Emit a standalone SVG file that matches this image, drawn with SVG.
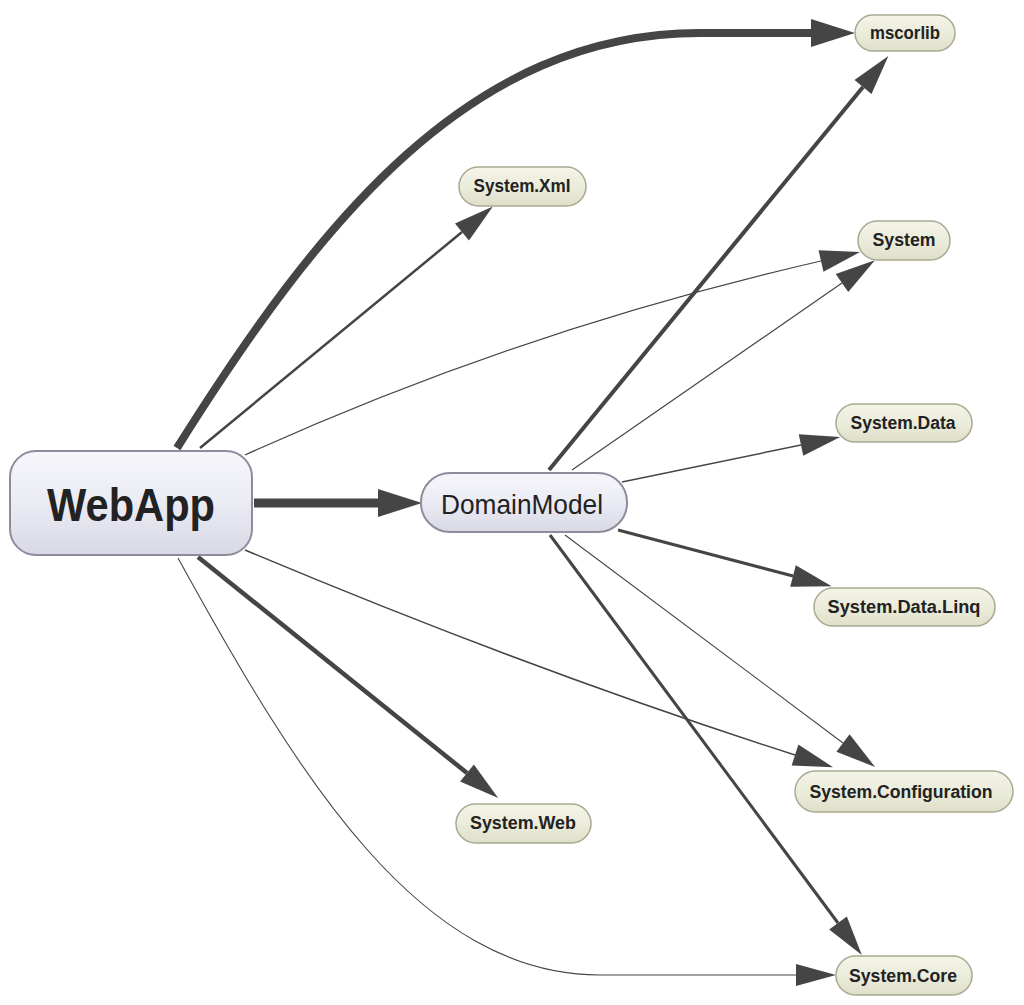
<svg xmlns="http://www.w3.org/2000/svg" width="1024" height="1005" viewBox="0 0 1024 1005">
<defs>
<linearGradient id="gMain" x1="0" y1="0" x2="0" y2="1">
<stop offset="0" stop-color="#f6f6fb"/>
<stop offset="0.5" stop-color="#ebebf4"/>
<stop offset="1" stop-color="#d9d9e6"/>
</linearGradient>
<linearGradient id="gLib" x1="0" y1="0" x2="0" y2="1">
<stop offset="0" stop-color="#f4f4e8"/>
<stop offset="0.5" stop-color="#ececdc"/>
<stop offset="1" stop-color="#dedec8"/>
</linearGradient>
<marker id="arr" markerUnits="userSpaceOnUse" markerWidth="42" markerHeight="26" refX="0" refY="13" orient="auto" overflow="visible">
<path d="M0,2 L40,13 L0,24 z" fill="#454545"/>
</marker>
<marker id="arrBig" markerUnits="userSpaceOnUse" markerWidth="46" markerHeight="30" refX="0" refY="15" orient="auto" overflow="visible">
<path d="M0,1 L44,15 L0,29 z" fill="#454545"/>
</marker>
<style>
.e{fill:none;stroke:#454545;marker-end:url(#arr)}
.eb{fill:none;stroke:#454545;marker-end:url(#arrBig)}
.main{fill:url(#gMain);stroke:#8c8c9c;stroke-width:2}
.lib{fill:url(#gLib);stroke:#a9a993;stroke-width:1.5}
.lt{font-family:"Liberation Sans",Arial,sans-serif;font-weight:bold;font-size:18px;fill:#222;text-anchor:middle}
</style>
</defs>
<g id="connectors">
<path class="eb" style="stroke-width:8" d="M177,448 C320,220 470,33 700,33 L811,33"/>
<path class="e" style="stroke-width:2.5" d="M200,448 L462,232"/>
<path class="e" style="stroke-width:1.2" d="M245,455 Q520,330 821,261"/>
<path class="eb" style="stroke-width:9" d="M254,503 L378,503"/>
<path class="e" style="stroke-width:4.5" d="M198,557 L467,773"/>
<path class="e" style="stroke-width:1.5" d="M245,550 Q530,670 795,755"/>
<path class="e" style="stroke-width:1.1" d="M178,558 C300,780 420,975 600,975 L796,975"/>
<path class="e" style="stroke-width:4" d="M549,470 L863,87"/>
<path class="e" style="stroke-width:1.2" d="M572,470 L842,283"/>
<path class="e" style="stroke-width:1.5" d="M622,482 L801,445"/>
<path class="e" style="stroke-width:3" d="M618,530 L793,576"/>
<path class="e" style="stroke-width:1.1" d="M565,535 L843,743"/>
<path class="e" style="stroke-width:3" d="M550,535 L838,923"/>
</g>
<g id="node-WebApp">
<rect class="main" x="10" y="451" width="242" height="104" rx="26"/>
<text x="131" y="521" font-family="'Liberation Sans',Arial,sans-serif" font-weight="bold" font-size="47" fill="#222" text-anchor="middle" textLength="168" lengthAdjust="spacingAndGlyphs">WebApp</text>
</g>
<g id="node-DomainModel">
<rect class="main" x="421" y="473" width="206" height="59" rx="29"/>
<text x="522" y="514" font-family="'Liberation Sans',Arial,sans-serif" font-size="28" fill="#222" text-anchor="middle" textLength="162" lengthAdjust="spacingAndGlyphs">DomainModel</text>
</g>
<g id="node-mscorlib">
<rect class="lib" x="855" y="15" width="100" height="36" rx="18"/>
<text class="lt" x="905" y="39" textLength="70" lengthAdjust="spacingAndGlyphs">mscorlib</text>
</g>
<g id="node-System.Xml">
<rect class="lib" x="459" y="167" width="127" height="39" rx="19.5"/>
<text class="lt" x="522" y="192" textLength="97" lengthAdjust="spacingAndGlyphs">System.Xml</text>
</g>
<g id="node-System">
<rect class="lib" x="858" y="221" width="92" height="39" rx="19.5"/>
<text class="lt" x="904" y="246" textLength="63" lengthAdjust="spacingAndGlyphs">System</text>
</g>
<g id="node-System.Data">
<rect class="lib" x="836" y="404" width="136" height="38" rx="19"/>
<text class="lt" x="903" y="429" textLength="105" lengthAdjust="spacingAndGlyphs">System.Data</text>
</g>
<g id="node-System.Data.Linq">
<rect class="lib" x="814" y="588" width="181" height="38" rx="19"/>
<text class="lt" x="904" y="613" textLength="153" lengthAdjust="spacingAndGlyphs">System.Data.Linq</text>
</g>
<g id="node-System.Configuration">
<rect class="lib" x="795" y="771" width="218" height="41" rx="20.5"/>
<text class="lt" x="901" y="798" textLength="183" lengthAdjust="spacingAndGlyphs">System.Configuration</text>
</g>
<g id="node-System.Web">
<rect class="lib" x="456" y="804" width="135" height="39" rx="19.5"/>
<text class="lt" x="523" y="829" textLength="106" lengthAdjust="spacingAndGlyphs">System.Web</text>
</g>
<g id="node-System.Core">
<rect class="lib" x="836" y="956" width="136" height="39" rx="19.5"/>
<text class="lt" x="903" y="982" textLength="108" lengthAdjust="spacingAndGlyphs">System.Core</text>
</g>
</svg>
